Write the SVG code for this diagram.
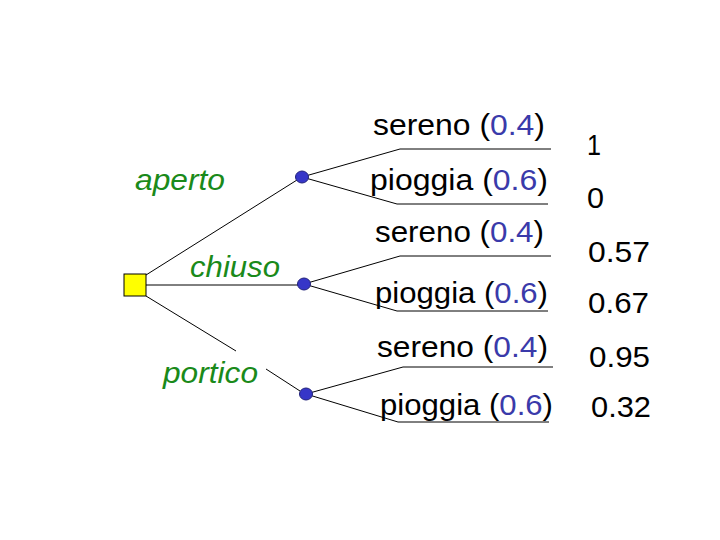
<svg xmlns="http://www.w3.org/2000/svg" width="720" height="540" viewBox="0 0 720 540">
<style>
.e{stroke:#000;stroke-width:1;fill:none}
.t{font-family:"Liberation Sans",Arial,sans-serif;font-size:29px;fill:#000}
.p{fill:#3a3aaa}
.g{font-family:"Liberation Sans",Arial,sans-serif;font-size:29px;font-style:italic;fill:#1a8a1a}
.c{fill:#3636c8;stroke:#20207a;stroke-width:1}
</style>
<rect width="720" height="540" fill="#fff"/>
<g id="connectors">
<polyline class="e" points="146,275 297,180"/>
<polyline class="e" points="146,285 298,285"/>
<polyline class="e" points="146,296 236,351"/>
<polyline class="e" points="266,369 300,391"/>
<polyline class="e" points="302,177 400,149 551,149"/>
<polyline class="e" points="302,177 397,204 548,204"/>
<polyline class="e" points="304,284 400,256 551,256"/>
<polyline class="e" points="304,284 397,311 548,311"/>
<polyline class="e" points="306,394 403,367 553,367"/>
<polyline class="e" points="306,394 398,422 549,422"/>
</g>
<g id="decision"><rect x="124" y="274" width="22" height="22" fill="#ffff00" stroke="#000" stroke-width="1"/></g>
<g id="chance1"><ellipse class="c" cx="302" cy="177" rx="6.5" ry="6"/></g>
<g id="chance2"><ellipse class="c" cx="304" cy="284" rx="6.5" ry="6"/></g>
<g id="chance3"><ellipse class="c" cx="306" cy="394" rx="6.5" ry="6"/></g>
<g id="labels">
<text class="g" x="135" y="190" textLength="90" lengthAdjust="spacingAndGlyphs">aperto</text>
<text class="g" x="190" y="277" textLength="90" lengthAdjust="spacingAndGlyphs">chiuso</text>
<text class="g" x="163" y="383" textLength="95" lengthAdjust="spacingAndGlyphs">portico</text>
<text class="t" x="373" y="135" textLength="172" lengthAdjust="spacingAndGlyphs">sereno (<tspan class="p">0.4</tspan>)</text>
<text class="t" x="370" y="190" textLength="178" lengthAdjust="spacingAndGlyphs">pioggia (<tspan class="p">0.6</tspan>)</text>
<text class="t" x="375" y="242" textLength="169" lengthAdjust="spacingAndGlyphs">sereno (<tspan class="p">0.4</tspan>)</text>
<text class="t" x="375" y="303" textLength="173" lengthAdjust="spacingAndGlyphs">pioggia (<tspan class="p">0.6</tspan>)</text>
<text class="t" x="377" y="357" textLength="171" lengthAdjust="spacingAndGlyphs">sereno (<tspan class="p">0.4</tspan>)</text>
<text class="t" x="380" y="415" textLength="173" lengthAdjust="spacingAndGlyphs">pioggia (<tspan class="p">0.6</tspan>)</text>
<text class="t" x="587" y="155" textLength="14" lengthAdjust="spacingAndGlyphs">1</text>
<text class="t" x="587" y="208" textLength="17" lengthAdjust="spacingAndGlyphs">0</text>
<text class="t" x="588" y="262" textLength="62" lengthAdjust="spacingAndGlyphs">0.57</text>
<text class="t" x="588" y="313" textLength="61" lengthAdjust="spacingAndGlyphs">0.67</text>
<text class="t" x="589" y="367" textLength="61" lengthAdjust="spacingAndGlyphs">0.95</text>
<text class="t" x="591" y="417" textLength="60" lengthAdjust="spacingAndGlyphs">0.32</text>
</g>
</svg>
